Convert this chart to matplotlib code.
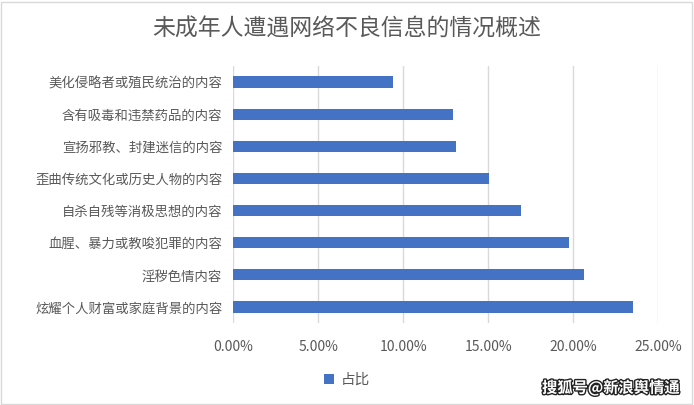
import matplotlib.pyplot as plt
import matplotlib.patheffects as pe
from matplotlib.patches import Rectangle

plt.rcParams['font.family'] = ['Noto Sans CJK SC', 'DejaVu Sans']

# Данные (сверху вниз как на картинке)
categories = [
    '美化侵略者或殖民统治的内容',
    '含有吸毒和违禁药品的内容',
    '宣扬邪教、封建迷信的内容',
    '歪曲传统文化或历史人物的内容',
    '自杀自残等消极思想的内容',
    '血腥、暴力或教唆犯罪的内容',
    '淫秽色情内容',
    '炫耀个人财富或家庭背景的内容',
]
share = [9.39, 12.92, 13.10, 15.04, 16.92, 19.75, 20.63, 23.51]
xticks = [0, 5, 10, 15, 20, 25]
xtick_labels = ['0.00%', '5.00%', '10.00%', '15.00%', '20.00%', '25.00%']

text_color = '#595959'
bar_color = '#4472C4'
grid_color = '#D9D9D9'

fig = plt.figure(figsize=(6.94, 4.05), dpi=100)
ax = fig.add_axes([0.3362, 0.2025, 0.6124, 0.6345])

# порядок снизу вверх для barh
y_pos = list(range(len(categories)))[::-1]
ax.barh(y_pos, share, height=0.35, color=bar_color, zorder=3, label='占比')

ax.set_xlim(0, 25)
ax.set_ylim(-0.5, len(categories) - 0.5)
ax.set_xticks(xticks)
ax.set_xticklabels(xtick_labels, fontsize=10, color=text_color)
ax.set_yticks(y_pos)
ax.set_yticklabels(categories, fontsize=9.6, color=text_color)
ax.tick_params(axis='both', length=0)
ax.tick_params(axis='x', pad=12)
ax.tick_params(axis='y', pad=8)
ax.grid(axis='x', color=grid_color, linewidth=1, zorder=0)
for s in ax.spines.values():
    s.set_visible(False)

fig.text(0.5, 0.928, '未成年人遭遇网络不良信息的情况概述', ha='center', va='center',
         fontsize=16.5, color=text_color)

# Легенда
fig.legend(loc='center', bbox_to_anchor=(0.5, 0.062), frameon=False,
           fontsize=10.5, labelcolor=text_color, handlelength=0.7, handleheight=0.7,
           handletextpad=0.5)

# Водяной знак
wm = fig.text(0.88, 0.042, '搜狐号@新浪舆情通', ha='center', va='center',
              fontsize=11, color='white', fontweight='bold')
wm.set_path_effects([pe.withStroke(linewidth=2, foreground='#222222')])

# Рамка области диаграммы
fig.patches.append(Rectangle((0.002, 0.003), 0.995, 0.993, transform=fig.transFigure,
                             fill=False, edgecolor='#D9D9D9', linewidth=1))

fig.savefig('out.png', dpi=100)
